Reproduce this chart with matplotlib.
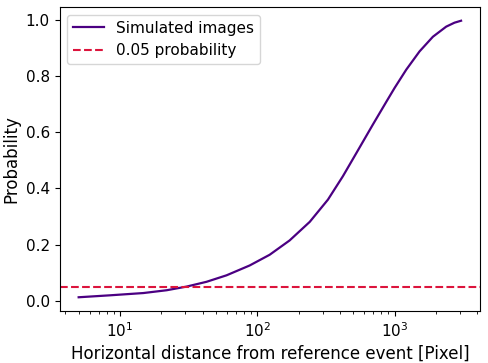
import matplotlib
matplotlib.use("Agg")
import matplotlib.pyplot as plt

distance = [5, 8.5, 14.8, 21.9, 30.6, 42.7, 59.7, 88, 123, 172, 241, 327, 420,
            526, 695, 871, 1000, 1216, 1520, 1901, 2377, 2730, 3050]
probability = [0.013, 0.020, 0.028, 0.038, 0.051, 0.068, 0.091, 0.126, 0.164, 0.215,
               0.281, 0.360, 0.443, 0.525, 0.627, 0.708, 0.757, 0.822, 0.887, 0.939,
               0.975, 0.989, 0.996]
threshold = 0.05

fig = plt.figure(figsize=(4.88, 3.63), dpi=100)
ax = fig.add_axes([0.122, 0.143, 0.862, 0.838])
ax.plot(distance, probability, color="indigo", label="Simulated images", lw=1.6)
ax.axhline(threshold, color="crimson", ls="--", label="0.05 probability", lw=1.5)
ax.set_xscale("log")
ax.set_xlabel("Horizontal distance from reference event [Pixel]", fontsize=12)
ax.set_ylabel("Probability", fontsize=12)
ax.tick_params(labelsize=11)
ax.legend(fontsize=11, loc="upper left")
fig.savefig("out.png", dpi=100)
